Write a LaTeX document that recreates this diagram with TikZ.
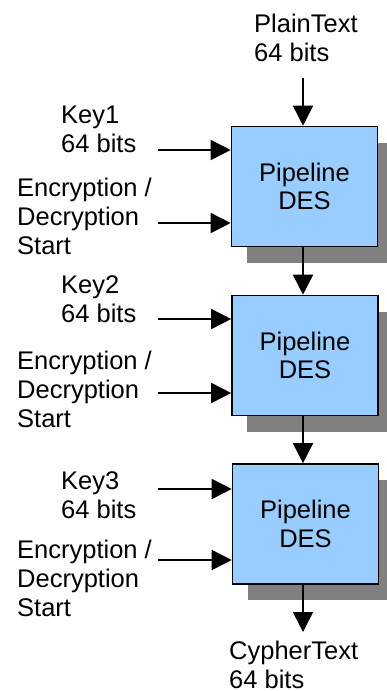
\documentclass[tikz,border=0pt]{standalone}
\usepackage{fontspec}
\setmainfont{Liberation Sans}
\usetikzlibrary{arrows.meta,shadows}
\definecolor{boxblue}{HTML}{99CCFF}
\definecolor{shadowgray}{HTML}{808080}
\begin{document}
\begin{tikzpicture}[x=1pt,y=-1pt,
  lbl/.style={anchor=base west,inner sep=0pt,align=left,font=\fontsize{25.5}{28.8}\selectfont},
  desbox/.style={draw=black,line width=1.6pt,fill=boxblue,minimum width=146pt,minimum height=120pt,
    inner sep=0pt,align=center,font=\fontsize{25.5}{28.5}\selectfont,
    drop shadow={shadow xshift=15pt,shadow yshift=-16pt,fill=shadowgray,opacity=1}},
  arr/.style={line width=1.6pt,-{Triangle[width=20pt,length=20pt]}}]
\useasboundingbox (0,0) rectangle (387,691);
% boxes
\node[desbox] (b1) at (304.5,186.5) {Pipeline\\DES};
\node[desbox] (b2) at (305,355.5) {Pipeline\\DES};
\node[desbox] (b3) at (305.5,524) {Pipeline\\DES};
% labels (anchor = baseline of last line)
\node[lbl] (pt) at (254,61.5) {PlainText\\64 bits};
\node[lbl] (k1) at (61,152) {Key1\\64 bits};
\node[lbl] (e1) at (17,254.5) {Encryption /\\Decryption\\Start};
\node[lbl] (k2) at (61,322) {Key2\\64 bits};
\node[lbl] (e2) at (17,427) {Encryption /\\Decryption\\Start};
\node[lbl] (k3) at (61,518.5) {Key3\\64 bits};
\node[lbl] (e3) at (17,616.5) {Encryption /\\Decryption\\Start};
\node[lbl] (ct) at (229,688) {CypherText\\64 bits};
% free ends
\coordinate (ptin) at (303,78);
\coordinate (ctout) at (303,632);
\coordinate (k1s) at (158,150);
\coordinate (e1s) at (158,223);
\coordinate (k2s) at (158,319);
\coordinate (e2s) at (158,393);
\coordinate (k3s) at (158,489);
\coordinate (e3s) at (158,560);
% connectors
\draw[arr] (ptin) -- (ptin |- b1.north);
\draw[arr] (b1.south -| ptin) -- (ptin |- b2.north);
\draw[arr] (b2.south -| ptin) -- (ptin |- b3.north);
\draw[arr] (b3.south -| ptin) -- (ctout);
\draw[arr] (k1s) -- (k1s -| b1.west);
\draw[arr] (e1s) -- (e1s -| b1.west);
\draw[arr] (k2s) -- (k2s -| b2.west);
\draw[arr] (e2s) -- (e2s -| b2.west);
\draw[arr] (k3s) -- (k3s -| b3.west);
\draw[arr] (e3s) -- (e3s -| b3.west);
\end{tikzpicture}
\end{document}
